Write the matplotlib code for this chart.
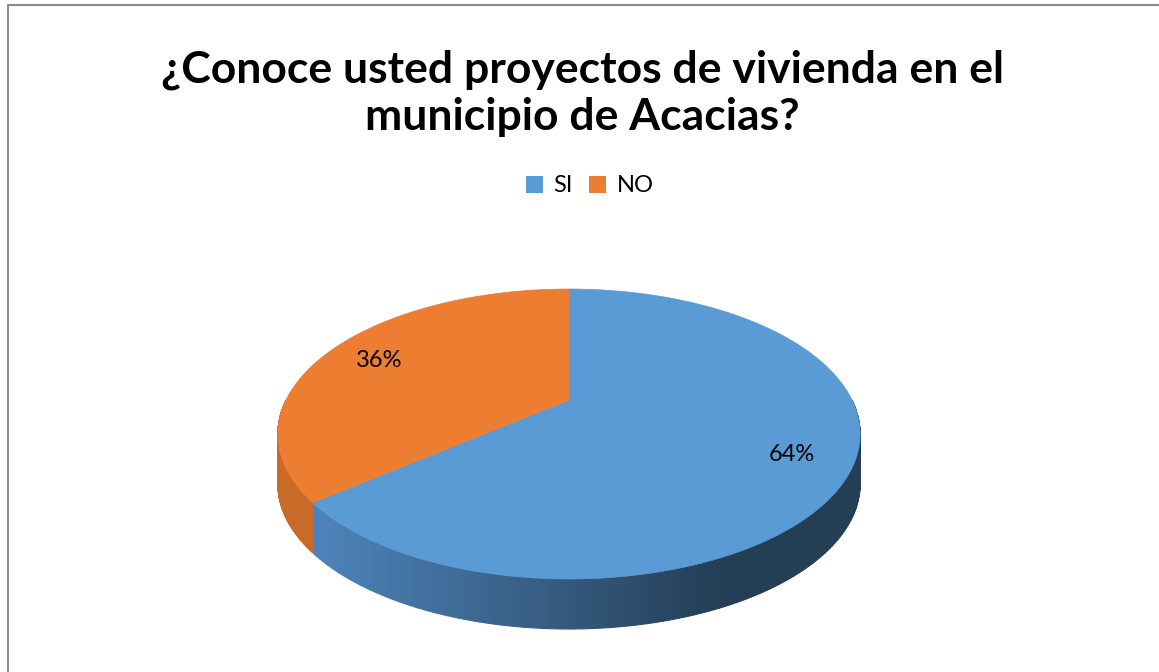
import numpy as np
import matplotlib
matplotlib.use("Agg")
import matplotlib.pyplot as plt
from matplotlib.patches import Polygon, Patch
from matplotlib.colors import to_rgb

# datos de la encuesta
categorias = ["SI", "NO"]
porcentajes = [64, 36]
colores_top = ["#5b9bd5", "#ed7d31"]
titulo = "¿Conoce usted proyectos de vivienda en el\nmunicipio de Acacias?"

plt.rcParams['font.family'] = ['Lato', 'DejaVu Sans']

W, H = 1159, 672
fig = plt.figure(figsize=(W / 100, H / 100), dpi=100)
ax = fig.add_axes([0, 0, 1, 1])
ax.set_xlim(0, W)
ax.set_ylim(H, 0)
ax.axis('off')

# marco (solo lados izquierdo y superior visibles)
ax.plot([8, 8, W], [H, 5, 5], color="#8c8c8c", lw=1.5)

# geometria del pastel 3D (perspectiva simple)
cx, cy = 569, 400
A, B, p = 283, 137, 0.2345
prof = 50


def proy(t, r=1.0):
    u = r * np.cos(t)
    v = r * np.sin(t)
    d = 1 + p * v
    return cx + A * u / d, cy - B * v / d


# angulos: empieza arriba (90 grados) y SI va en sentido horario
fr = np.array(porcentajes) / sum(porcentajes)
inicio = np.pi / 2
angulos = []
a0 = inicio
for f in fr:
    a1 = a0 - 2 * np.pi * f
    angulos.append((a0, a1))
    a0 = a1


def color_lado(i, x):
    if i == 0:
        c1 = np.array(to_rgb("#4d83ba"))
        c2 = np.array(to_rgb("#243e56"))
        s = np.clip((x - 320) / 400, 0, 1)
        return c1 + (c2 - c1) * s
    return np.array(to_rgb("#c96a29"))


# caras laterales (solo la mitad frontal)
for i, (a0, a1) in enumerate(angulos):
    lo, hi = min(a0, a1), max(a0, a1)
    segs = []
    for off in (0, 2 * np.pi, -2 * np.pi):
        l2 = max(lo + off, np.pi)
        h2 = min(hi + off, 2 * np.pi)
        if h2 > l2:
            segs.append((l2, h2))
    for l2, h2 in segs:
        ts = np.linspace(l2, h2, 160)
        for k in range(len(ts) - 1):
            x0, y0 = proy(ts[k])
            x1, y1 = proy(ts[k + 1])
            quad = [(x0, y0), (x1, y1), (x1, y1 + prof), (x0, y0 + prof)]
            c = color_lado(i, (x0 + x1) / 2)
            ax.add_patch(Polygon(quad, closed=True, facecolor=c, edgecolor=c, lw=0.8))

# caras superiores
for i, (a0, a1) in enumerate(angulos):
    ts = np.linspace(a0, a1, 300)
    xs, ys = proy(ts)
    pts = [(cx, cy)] + list(zip(xs, ys))
    ax.add_patch(Polygon(pts, closed=True, facecolor=colores_top[i], edgecolor=colores_top[i], lw=0.5))

# etiquetas de porcentaje
for i, (a0, a1) in enumerate(angulos):
    xm, ym = proy((a0 + a1) / 2, 0.8)
    ax.text(xm, ym + 4, "%d%%" % porcentajes[i], ha='center', va='center', fontsize=17, color='black')

# titulo
ax.text(W / 2 + 3, 93, titulo, ha='center', va='center', fontsize=32, fontweight='bold',
        linespacing=1.2, color='black')

# leyenda
handles = [Patch(facecolor=colores_top[i], edgecolor='none') for i in range(len(categorias))]
fig.legend(handles, categorias, loc='center', bbox_to_anchor=(590 / W, 1 - 186 / H), ncol=2,
           frameon=False, fontsize=17, handlelength=0.7, handleheight=0.7,
           handletextpad=0.45, columnspacing=0.7)

fig.savefig("out.png", dpi=100)
